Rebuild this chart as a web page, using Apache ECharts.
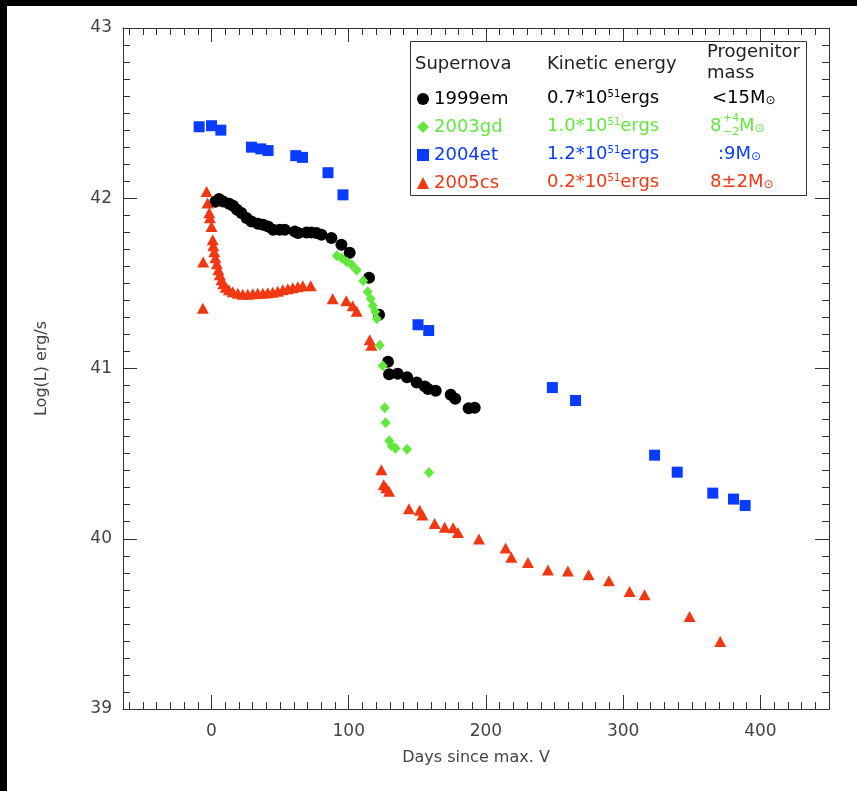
<!DOCTYPE html>
<html><head><meta charset="utf-8">
<script src="https://cdn.jsdelivr.net/npm/echarts@6/dist/echarts.min.js"></script>
<style>html,body{margin:0;padding:0;background:#fff;overflow:hidden;width:857px;height:791px}#c{width:857px;height:791px}</style>
</head><body><div id="c"></div>
<script>
// ---- data ----
const days1999em = [2.8,5.5,8.4,12.8,15.7,18.6,21.8,25.5,29.1,33.9,37.6,41.2,44.9,49.7,53.4,60.7,63.1,69.2,72.8,76.5,80.1,87.4,94.7,100.7,114.8,122.1,128.6,129.4,135.7,142.5,149.5,155.4,157.8,163.4,174.3,177.6,187.4,191.8];
const lum1999em = [41.98,41.995,41.981,41.968,41.956,41.932,41.913,41.884,41.864,41.850,41.844,41.834,41.815,41.815,41.815,41.805,41.796,41.799,41.799,41.796,41.786,41.766,41.727,41.680,41.533,41.316,41.039,40.966,40.969,40.949,40.918,40.895,40.879,40.869,40.846,40.822,40.767,40.769];
const days2003gd = [91.3,94.9,98.5,102.2,105.8,110.6,113.8,116.0,117.5,119.3,120.4,122.6,124.8,126.2,126.9,129.5,131.3,134.2,142.5,158.5];
const lum2003gd = [41.662,41.647,41.627,41.609,41.577,41.515,41.451,41.409,41.368,41.333,41.292,41.136,41.016,40.769,40.681,40.575,40.545,40.531,40.526,40.389];
const days2004et = [-9.0,0,6.8,29.1,35.9,41.2,61.4,66.3,84.9,95.8,150.5,158.3,248.4,265.3,322.9,339.4,365.3,380.4,388.9];
const lum2004et = [42.42,42.426,42.40,42.30,42.29,42.28,42.25,42.24,42.15,42.02,41.257,41.223,40.888,40.812,40.491,40.391,40.268,40.233,40.195];
const days2005cs = [-6.3,-6.1,-3.6,-2.9,-1.6,-1.2,0,0.9,1.3,2.0,2.8,3.9,5.0,6.0,7.3,8.6,10.4,12.6,15.5,19.2,22.8,26.4,30.1,33.7,37.4,41.0,44.6,48.3,51.9,55.6,59.2,62.9,66.5,72.3,88.3,98.2,102.9,105.8,115.3,116.5,123.8,125.5,127.3,129.4,143.9,151.7,153.7,162.6,169.9,176.1,179.6,194.9,214.3,218.5,230.6,245.2,259.7,274.8,289.6,304.7,315.6,348.4,370.7];
const lum2005cs = [41.354,41.625,42.040,41.972,41.915,41.885,41.834,41.756,41.721,41.686,41.650,41.615,41.580,41.550,41.521,41.498,41.477,41.462,41.451,41.442,41.436,41.436,41.439,41.442,41.442,41.445,41.448,41.454,41.462,41.468,41.474,41.480,41.486,41.486,41.410,41.398,41.368,41.336,41.169,41.136,40.405,40.317,40.299,40.279,40.176,40.167,40.140,40.090,40.067,40.064,40.036,39.998,39.945,39.892,39.860,39.817,39.811,39.788,39.754,39.690,39.671,39.543,39.396];

const seriesNames = ['1999em','2003gd','2004et','2005cs'];
const energies = ['0.7','1.0','1.2','0.2'];
const xMajorTicks = [0,100,200,300,400];
const yTicks = [39,40,41,42,43];
const xAxisTitle = 'Days since max. V';
const yAxisTitle = 'Log(L) erg/s';

// ---- styling ----
const colors = ['#000000','#62e83c','#0a3cff','#f03812'];
const FONT = 'DejaVu Sans';
const AXC = '#333';
const LBL = '#444';
const XMIN = -64.5, XMAX = 450, YMIN = 39, YMAX = 43;
const xMinorTicks = [];
for (let v = -60; v <= 440; v += 10) xMinorTicks.push(v);
const zip = (a, b) => a.map((v, i) => [v, b[i]]);

const grid = {left:123, top:28, width:706, height:681};
const baseX = {type:'value', min:XMIN, max:XMAX, splitLine:{show:false},
  axisLine:{show:true, onZero:false, lineStyle:{color:AXC, width:1}}};
const baseY = {type:'value', min:YMIN, max:YMAX, interval:1, splitLine:{show:false},
  axisLine:{show:true, onZero:false, lineStyle:{color:AXC, width:1}}};

const option = {
  animation:false,
  backgroundColor:'#fff',
  textStyle:{fontFamily:FONT},
  grid:[Object.assign({}, grid), Object.assign({}, grid)],
  xAxis:[
    Object.assign({}, baseX, {gridIndex:0, position:'bottom',
      name:xAxisTitle, nameLocation:'middle', nameGap:41,
      nameTextStyle:{fontSize:16, color:LBL, fontFamily:FONT},
      axisTick:{show:true, inside:true, length:14, customValues:xMajorTicks, lineStyle:{color:AXC}},
      axisLabel:{show:true, customValues:xMajorTicks, margin:14, fontSize:17, color:LBL, fontFamily:FONT}}),
    Object.assign({}, baseX, {gridIndex:0, position:'top',
      axisTick:{show:true, inside:true, length:14, customValues:xMajorTicks, lineStyle:{color:AXC}},
      axisLabel:{show:false}}),
    Object.assign({}, baseX, {gridIndex:1, position:'bottom', axisLine:{show:false},
      axisTick:{show:true, inside:true, length:7, customValues:xMinorTicks, lineStyle:{color:AXC}},
      axisLabel:{show:false}}),
    Object.assign({}, baseX, {gridIndex:1, position:'top', axisLine:{show:false},
      axisTick:{show:true, inside:true, length:7, customValues:xMinorTicks, lineStyle:{color:AXC}},
      axisLabel:{show:false}})
  ],
  yAxis:[
    Object.assign({}, baseY, {gridIndex:0, position:'left',
      name:yAxisTitle, nameLocation:'middle', nameGap:73,
      nameTextStyle:{fontSize:16, color:LBL, fontFamily:FONT},
      axisTick:{show:true, inside:true, length:14, lineStyle:{color:AXC}},
      minorTick:{show:true, splitNumber:10, length:7, lineStyle:{color:AXC}},
      axisLabel:{show:true, margin:11, fontSize:17, color:LBL, fontFamily:FONT}}),
    Object.assign({}, baseY, {gridIndex:0, position:'right',
      axisTick:{show:true, inside:true, length:14, lineStyle:{color:AXC}},
      minorTick:{show:true, splitNumber:10, length:7, lineStyle:{color:AXC}},
      axisLabel:{show:false}}),
    Object.assign({}, baseY, {gridIndex:1, show:false})
  ],
  legend:{
    orient:'vertical', left:412, top:85, itemWidth:12, itemHeight:12, itemGap:10,
    selectedMode:false,
    textStyle:{fontSize:18, fontFamily:FONT},
    data:seriesNames.map((n,i)=>({name:n, textStyle:{color:colors[i]}}))
  },
  series:[
    {name:seriesNames[0], type:'scatter', symbol:'circle', symbolSize:12, data:zip(days1999em, lum1999em), itemStyle:{color:colors[0], opacity:1}, z:2},
    {name:seriesNames[1], type:'scatter', symbol:'diamond', symbolSize:[10,11], data:zip(days2003gd, lum2003gd), itemStyle:{color:colors[1], opacity:1}, z:3},
    {name:seriesNames[2], type:'scatter', symbol:'rect', symbolSize:11, data:zip(days2004et, lum2004et), itemStyle:{color:colors[2], opacity:1}, z:4},
    {name:seriesNames[3], type:'scatter', symbol:'triangle', symbolSize:[12,11], data:zip(days2005cs, lum2005cs), itemStyle:{color:colors[3], opacity:1}, z:5}
  ],
  graphic:[]
};

const g = option.graphic;
g.push({type:'rect', shape:{x:0,y:0,width:857,height:6}, style:{fill:'#000'}, z:100});
g.push({type:'rect', shape:{x:0,y:0,width:7,height:791}, style:{fill:'#000'}, z:100});
g.push({type:'rect', shape:{x:410.5,y:41.5,width:396,height:154}, style:{fill:'#fff', stroke:AXC, lineWidth:1}, z:1});
const txt = (x, y, s, color, size) => ({type:'text', x:x, y:y, z:10,
  style:{text:s, fill:color, font:(size||18)+'px "'+FONT+'"', textVerticalAlign:'middle', verticalAlign:'middle'}});
g.push(txt(415, 64, 'Supernova', '#222'));
g.push(txt(547, 64, 'Kinetic energy', '#222'));
g.push(txt(707, 52, 'Progenitor', '#222'));
g.push(txt(707, 73, 'mass', '#222'));
const rowY = [98, 126, 154, 182];
energies.forEach((e, i) => {
  g.push({type:'text', x:547, y:rowY[i], z:10, style:{
    text:'{n|'+e+'*10}{s|51}{n|ergs}', verticalAlign:'middle', textVerticalAlign:'middle',
    rich:{n:{fontSize:18, fontFamily:FONT, fill:colors[i], color:colors[i]},
          s:{fontSize:10, fontFamily:FONT, fill:colors[i], color:colors[i], verticalAlign:'top'}}}});
});
const msun = (x, y, pre, color) => ({type:'text', x:x, y:y, z:10, style:{
  text:'{n|'+pre+'M}{o|⊙}', verticalAlign:'middle', textVerticalAlign:'middle',
  rich:{n:{fontSize:18, fontFamily:FONT, fill:color, color:color},
        o:{fontSize:12, fontFamily:FONT, fill:color, color:color, verticalAlign:'bottom'}}}});
g.push(msun(712, rowY[0], '<15', colors[0]));
g.push(txt(710, rowY[1], '8', colors[1]));
g.push(txt(723, rowY[1]-8, '+4', colors[1], 11));
g.push(txt(723, rowY[1]+6, '−2', colors[1], 11));
g.push(msun(739, rowY[1], '', colors[1]));
g.push(msun(718, rowY[2], ':9', colors[2]));
g.push(msun(710, rowY[3], '8±2', colors[3]));

const chart = echarts.init(document.getElementById('c'), null, {renderer:'canvas'});
chart.setOption(option);
</script></body></html>
